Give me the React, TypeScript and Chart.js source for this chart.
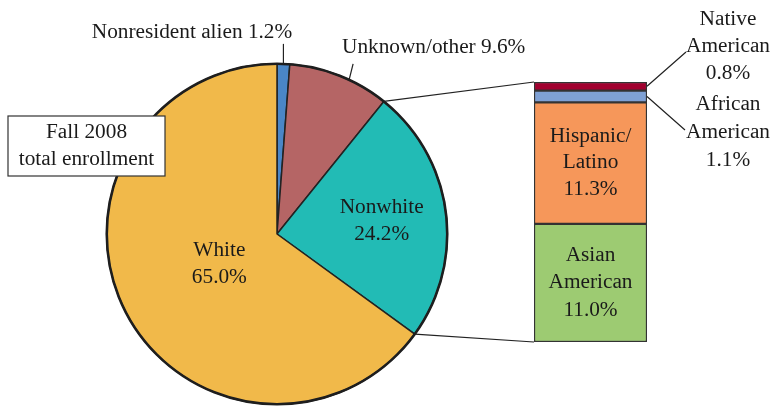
import React, { useEffect, useRef } from "react";
import { Chart, registerables } from "chart.js";

Chart.register(...registerables);

const pieLabels = ["Nonresident alien", "Unknown/other", "Nonwhite", "White"];
const pieValues = [1.2, 9.6, 24.2, 65.0];
const pieColors = ["#4A86C6", "#B56565", "#22BBB5", "#F1B94A"];

const barLabels = ["Asian American", "Hispanic/Latino", "African American", "Native American"];
const barValues = [11.0, 11.3, 1.1, 0.8];
const barColors = ["#9DCB72", "#F6975A", "#7FA1D5", "#A1002F"];

const FONT = '"Liberation Serif", "Times New Roman", serif';
const FSIZE = 21.3;
const TEXT = "#1a1a1a";

function drawLines(ctx: CanvasRenderingContext2D, lines: string[], x: number, y: number, lh: number) {
  lines.forEach((l, i) => ctx.fillText(l, x, y + i * lh));
}

export default function App() {
  const pieRef = useRef<HTMLCanvasElement | null>(null);
  const barRef = useRef<HTMLCanvasElement | null>(null);

  useEffect(() => {
    document.body.style.margin = "0";
    if (!pieRef.current || !barRef.current) return;

    const pieDecor = {
      id: "pieDecor",
      afterDatasetsDraw(chart: any) {
        const ctx = chart.ctx as CanvasRenderingContext2D;
        const meta = chart.getDatasetMeta(0);
        const arc0 = meta.data[0] as any;
        const cx = arc0.x;
        const cy = arc0.y;
        const r = arc0.outerRadius;
        ctx.save();
        ctx.beginPath();
        ctx.arc(cx, cy, r, 0, Math.PI * 2);
        ctx.lineWidth = 2.6;
        ctx.strokeStyle = "#1e1e1e";
        ctx.stroke();

        ctx.fillStyle = TEXT;
        ctx.font = `${FSIZE}px ${FONT}`;
        ctx.textAlign = "center";
        ctx.textBaseline = "middle";
        const inner = (i: number, lines: string[], rf: number) => {
          const a = meta.data[i] as any;
          const mid = (a.startAngle + a.endAngle) / 2;
          const x = cx + Math.cos(mid) * r * rf;
          const y = cy + Math.sin(mid) * r * rf;
          drawLines(ctx, lines, x, y - 13, 27);
        };
        inner(3, ["White", pieValues[3].toFixed(1) + "%"], 0.38);
        inner(2, ["Nonwhite", pieValues[2].toFixed(1) + "%"], 0.62);

        ctx.strokeStyle = "#222";
        ctx.lineWidth = 1.2;
        const a0 = meta.data[0] as any;
        const m0 = (a0.startAngle + a0.endAngle) / 2;
        const p0x = cx + Math.cos(m0) * r;
        const p0y = cy + Math.sin(m0) * r;
        ctx.beginPath();
        ctx.moveTo(p0x, p0y);
        ctx.lineTo(p0x, p0y - 20);
        ctx.stroke();
        ctx.fillText(`${pieLabels[0]} ${pieValues[0].toFixed(1)}%`, 192, 32);

        const a1 = meta.data[1] as any;
        const ang = a1.startAngle + (a1.endAngle - a1.startAngle) * 0.6;
        const p1x = cx + Math.cos(ang) * r;
        const p1y = cy + Math.sin(ang) * r;
        ctx.beginPath();
        ctx.moveTo(p1x, p1y);
        ctx.lineTo(p1x + 4, p1y - 16);
        ctx.stroke();
        ctx.textAlign = "left";
        ctx.fillText(`${pieLabels[1]} ${pieValues[1].toFixed(1)}%`, 342, 47);

        ctx.fillStyle = "#ffffff";
        ctx.fillRect(8, 116, 157, 60);
        ctx.strokeStyle = "#333";
        ctx.lineWidth = 1.2;
        ctx.strokeRect(8, 116, 157, 60);
        ctx.fillStyle = TEXT;
        ctx.textAlign = "center";
        drawLines(ctx, ["Fall 2008", "total enrollment"], 86.5, 132, 27);
        ctx.restore();
      },
    };

    const pieChart = new Chart(pieRef.current, {
      type: "pie",
      data: {
        labels: pieLabels,
        datasets: [
          {
            data: pieValues,
            backgroundColor: pieColors,
            borderColor: "#222",
            borderWidth: 1.5,
          },
        ],
      },
      options: {
        animation: false,
        responsive: false,
        maintainAspectRatio: false,
        layout: { padding: { left: 106, right: 328, top: 63, bottom: 2 } },
        plugins: { legend: { display: false }, tooltip: { enabled: false }, title: { display: false } },
      },
      plugins: [pieDecor],
    });

    const barDecor = {
      id: "barDecor",
      afterDatasetsDraw(chart: any) {
        const ctx = chart.ctx as CanvasRenderingContext2D;
        const pmeta = pieChart.getDatasetMeta(0);
        const nw = pmeta.data[2] as any;
        const cx = nw.x;
        const cy = nw.y;
        const r = nw.outerRadius;
        const bottomBar = chart.getDatasetMeta(0).data[0] as any;
        const topBar = chart.getDatasetMeta(3).data[0] as any;
        const left = bottomBar.x - bottomBar.width / 2;
        const right = bottomBar.x + bottomBar.width / 2;
        const top = topBar.y;
        const bottom = bottomBar.base;

        ctx.save();
        ctx.strokeStyle = "#222";
        ctx.lineWidth = 1.2;
        ctx.beginPath();
        ctx.moveTo(cx + Math.cos(nw.startAngle) * r, cy + Math.sin(nw.startAngle) * r);
        ctx.lineTo(left, top);
        ctx.moveTo(cx + Math.cos(nw.endAngle) * r, cy + Math.sin(nw.endAngle) * r);
        ctx.lineTo(left, bottom);
        ctx.stroke();

        ctx.fillStyle = TEXT;
        ctx.font = `${FSIZE}px ${FONT}`;
        ctx.textAlign = "center";
        ctx.textBaseline = "middle";
        const mid = (i: number) => {
          const b = chart.getDatasetMeta(i).data[0] as any;
          return { x: b.x, y: (b.y + b.base) / 2 };
        };
        const m0 = mid(0);
        drawLines(ctx, ["Asian", "American", barValues[0].toFixed(1) + "%"], m0.x, m0.y - 28, 27.5);
        const m1 = mid(1);
        drawLines(ctx, ["Hispanic/", "Latino", barValues[1].toFixed(1) + "%"], m1.x, m1.y - 27, 26.5);

        const m2 = mid(2);
        const m3 = mid(3);
        ctx.beginPath();
        ctx.moveTo(right, m3.y);
        ctx.lineTo(right + 39, 52);
        ctx.moveTo(right, m2.y);
        ctx.lineTo(right + 38, 130);
        ctx.stroke();
        drawLines(ctx, ["Native", "American", barValues[3].toFixed(1) + "%"], 728, 19, 27);
        drawLines(ctx, ["African", "American", barValues[2].toFixed(1) + "%"], 728, 104, 28);
        ctx.restore();
      },
    };

    const barChart = new Chart(barRef.current, {
      type: "bar",
      data: {
        labels: ["Nonwhite"],
        datasets: barLabels.map((l, i) => ({
          label: l,
          data: [barValues[i]],
          backgroundColor: barColors[i],
          borderColor: "#333",
          borderWidth: 1.5,
          borderSkipped: false,
          barPercentage: 1,
          categoryPercentage: 1,
        })),
      },
      options: {
        animation: false,
        responsive: false,
        maintainAspectRatio: false,
        layout: { padding: { left: 534, right: 129, top: 82, bottom: 65 } },
        scales: {
          x: { stacked: true, display: false },
          y: { stacked: true, display: false, min: 0, max: 24.2 },
        },
        plugins: { legend: { display: false }, tooltip: { enabled: false }, title: { display: false } },
      },
      plugins: [barDecor],
    });

    return () => {
      barChart.destroy();
      pieChart.destroy();
    };
  }, []);

  return (
    <div style={{ position: "relative", width: 776, height: 407, background: "#fff" }}>
      <canvas ref={pieRef} width={776} height={407} style={{ position: "absolute", left: 0, top: 0 }} />
      <canvas ref={barRef} width={776} height={407} style={{ position: "absolute", left: 0, top: 0 }} />
    </div>
  );
}
